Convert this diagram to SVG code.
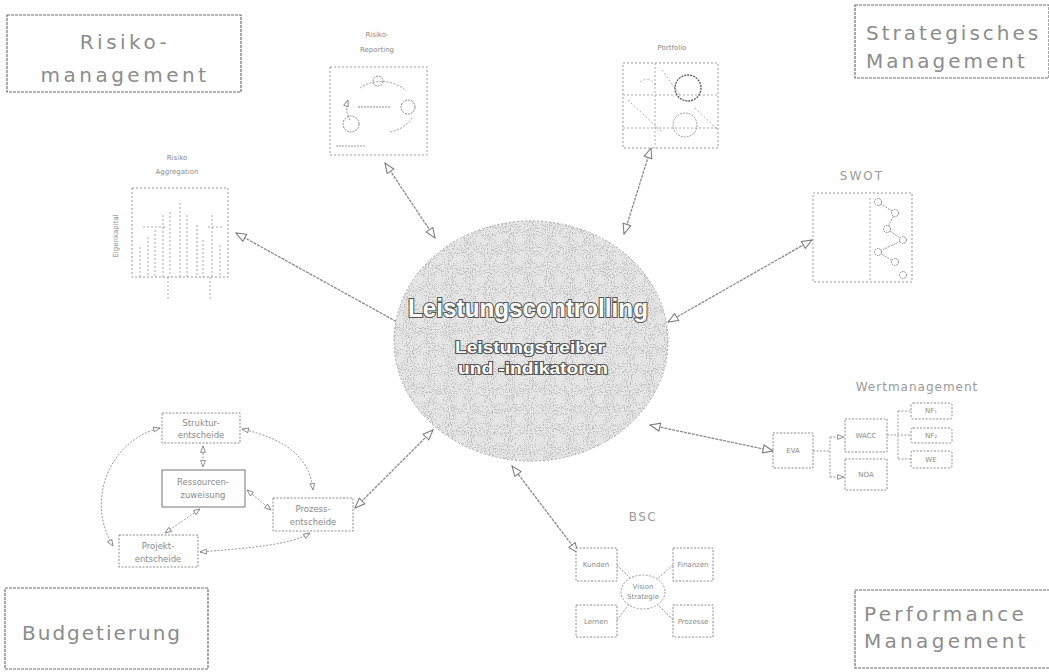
<svg xmlns="http://www.w3.org/2000/svg" width="1049" height="672" viewBox="0 0 1049 672">
<defs>
<style>
.frame{fill:none;stroke:#6e6e6e;stroke-width:1.2;stroke-dasharray:3 1}
.big{font-family:"DejaVu Sans",sans-serif;font-size:20px;fill:#8c8c8c}
.cap{font-family:"DejaVu Sans",sans-serif;font-size:12px;fill:#9a9a9a;text-anchor:middle}
.tiny{font-family:"DejaVu Sans",sans-serif;font-size:7px;fill:#8a8a8a;text-anchor:middle}
.small{font-family:"DejaVu Sans",sans-serif;font-size:8.5px;fill:#8a8a8a;text-anchor:middle}
.thumb{fill:#fff;stroke:#9a9a9a;stroke-width:1;stroke-dasharray:2 2}
.box{fill:#fff;stroke:#8a8a8a;stroke-width:1;stroke-dasharray:2 1.5}
.dl{fill:none;stroke:#aaa;stroke-width:1;stroke-dasharray:2 2}
.conn{fill:none;stroke:#8a8a8a;stroke-width:1.3;stroke-dasharray:3 1;marker-start:url(#ah);marker-end:url(#ah)}
.thin{fill:none;stroke:#999;stroke-width:1;stroke-dasharray:2 1.5}
.ctr{font-family:"Liberation Sans",sans-serif;font-weight:bold;fill:#fff;stroke:#555;stroke-width:2.2;paint-order:stroke;text-anchor:middle}
</style>
<marker id="ah" viewBox="0 0 12 10" refX="11" refY="5" markerWidth="12" markerHeight="10" orient="auto-start-reverse" markerUnits="userSpaceOnUse">
<path d="M1,1 L11,5 L1,9 Z" fill="#fff" stroke="#777" stroke-width="1"/>
</marker>
<marker id="sa" viewBox="0 0 10 8" refX="9" refY="4" markerWidth="8" markerHeight="7" orient="auto-start-reverse" markerUnits="userSpaceOnUse">
<path d="M1,1 L9,4 L1,7 Z" fill="#fff" stroke="#777" stroke-width="1"/>
</marker>
<filter id="speckle" x="0" y="0" width="100%" height="100%">
<feTurbulence type="fractalNoise" baseFrequency="0.95" numOctaves="1" seed="4" result="n"/>
<feColorMatrix in="n" type="matrix" values="0 0 0 0 0.5  0 0 0 0 0.5  0 0 0 0 0.5  0 0 0 12 -6.6" result="dots"/>
<feComposite in="dots" in2="SourceGraphic" operator="in"/>
</filter>
</defs>
<rect width="1049" height="672" fill="#fff"/>

<g id="connectors">
<line class="conn" x1="385" y1="163" x2="435" y2="238"/>
<line class="conn" x1="651" y1="148" x2="624" y2="234"/>
<line class="conn" x1="812" y1="240" x2="668" y2="322"/>
<line class="conn" x1="236" y1="233" x2="408" y2="328"/>
<line class="conn" x1="773" y1="451" x2="650" y2="425"/>
<line class="conn" x1="578" y1="553" x2="512" y2="466"/>
<line class="conn" x1="355" y1="508" x2="433" y2="430"/>
</g>

<g id="risikomanagement">
<rect class="frame" x="7" y="15" width="234" height="77"/>
<text class="big" x="125" y="49" text-anchor="middle" letter-spacing="3.5">Risiko-</text>
<text class="big" x="125" y="82" text-anchor="middle" letter-spacing="3.5">management</text>
</g>

<g id="strategisches">
<rect class="frame" x="855" y="5" width="194" height="73"/>
<text class="big" x="866" y="40" letter-spacing="3">Strategisches</text>
<text class="big" x="866" y="68" letter-spacing="3">Management</text>
</g>

<g id="budgetierung">
<rect class="frame" x="5" y="588" width="203" height="81"/>
<text class="big" x="22" y="640" letter-spacing="2">Budgetierung</text>
</g>

<g id="performance">
<rect class="frame" x="855" y="590" width="196" height="78"/>
<text class="big" x="864" y="621" letter-spacing="3.3">Performance</text>
<text class="big" x="864" y="648" letter-spacing="3.3">Management</text>
</g>

<g id="risiko-reporting">
<text class="tiny" x="377" y="37">Risiko-</text>
<text class="tiny" x="377" y="52">Reporting</text>
<rect class="thumb" x="330" y="67" width="97" height="88"/>
<path class="thin" d="M360,88 A33,28 0 0 1 405,90 M412,118 A33,28 0 0 1 390,132 M350,120 A33,28 0 0 1 348,100" marker-end="url(#sa)"/>
<circle cx="378" cy="81" r="5" fill="none" stroke="#888" stroke-dasharray="2 1"/>
<circle cx="408" cy="107" r="7" fill="none" stroke="#888" stroke-dasharray="2 1"/>
<circle cx="351" cy="124" r="8" fill="none" stroke="#888" stroke-dasharray="2 1"/>
<line x1="358" y1="107" x2="390" y2="107" stroke="#888" stroke-dasharray="2 1"/>
<line x1="336" y1="146" x2="366" y2="146" stroke="#999" stroke-dasharray="2 1"/>
</g>

<g id="portfolio">
<text class="tiny" x="672" y="50">Portfolio</text>
<rect class="thumb" x="623" y="63" width="95" height="85"/>
<line class="dl" x1="623" y1="95" x2="718" y2="95"/>
<line class="dl" x1="623" y1="128" x2="718" y2="128"/>
<line class="dl" x1="655" y1="63" x2="655" y2="148"/>
<line class="dl" x1="628" y1="100" x2="662" y2="132"/>
<line class="dl" x1="662" y1="70" x2="680" y2="95"/>
<line class="dl" x1="695" y1="108" x2="718" y2="130"/>
<path class="dl" d="M640,82 A10,10 0 0 1 656,86"/>
<circle cx="688" cy="88" r="13" fill="none" stroke="#555" stroke-width="1.3" stroke-dasharray="2 1"/>
<circle cx="685" cy="125" r="12" fill="none" stroke="#999" stroke-dasharray="2 1"/>
</g>

<g id="risiko-aggregation">
<text class="tiny" x="177" y="160">Risiko</text>
<text class="tiny" x="177" y="174">Aggregation</text>
<rect class="thumb" x="132" y="188" width="96" height="89"/>
<text class="tiny" transform="translate(118,236) rotate(-90)">Eigenkapital</text>
<g class="dl">
<line x1="140" y1="247" x2="140" y2="277"/>
<line x1="148" y1="237" x2="148" y2="277"/>
<line x1="155" y1="230" x2="155" y2="277"/>
<line x1="163" y1="215" x2="163" y2="277"/>
<line x1="170" y1="212" x2="170" y2="277"/>
<line x1="180" y1="203" x2="180" y2="277"/>
<line x1="187" y1="215" x2="187" y2="277"/>
<line x1="197" y1="225" x2="197" y2="277"/>
<line x1="203" y1="240" x2="203" y2="277"/>
<line x1="212" y1="215" x2="212" y2="277"/>
<line x1="220" y1="245" x2="220" y2="277"/>
<line x1="143" y1="227" x2="165" y2="227"/>
<line x1="208" y1="227" x2="222" y2="227"/>
<line x1="168" y1="277" x2="168" y2="300"/>
<line x1="210" y1="277" x2="210" y2="300"/>
</g>
</g>

<g id="swot">
<text class="cap" x="862" y="180" letter-spacing="2">SWOT</text>
<rect class="thumb" x="813" y="193" width="99" height="89"/>
<line class="dl" x1="870" y1="198" x2="870" y2="282"/>
<polyline fill="none" stroke="#999" stroke-dasharray="2 1" points="878,202 895,213 887,229 903,240 878,252 895,262"/>
<g fill="#fff" stroke="#777" stroke-dasharray="1.5 1">
<circle cx="878" cy="202" r="3.5"/><circle cx="895" cy="213" r="3.5"/><circle cx="887" cy="229" r="3.5"/>
<circle cx="903" cy="240" r="3.5"/><circle cx="878" cy="252" r="3.5"/><circle cx="895" cy="262" r="3.5"/><circle cx="903" cy="275" r="3.5"/>
</g>
</g>

<g id="leistungscontrolling">
<ellipse cx="531" cy="341" rx="137" ry="120" fill="#e6e6e6"/>
<ellipse cx="531" cy="341" rx="137" ry="120" fill="#000" filter="url(#speckle)"/>
<ellipse cx="531" cy="341" rx="137" ry="120" fill="none" stroke="#aaa" stroke-width="1" stroke-dasharray="2 2"/>
<text class="ctr" x="528" y="317" font-size="25" textLength="240" lengthAdjust="spacingAndGlyphs">Leistungscontrolling</text>
<text class="ctr" x="530" y="353" font-size="17" textLength="150" lengthAdjust="spacingAndGlyphs">Leistungstreiber</text>
<text class="ctr" x="533" y="374" font-size="17" textLength="150" lengthAdjust="spacingAndGlyphs">und -indikatoren</text>
</g>

<g id="wertmanagement">
<text class="cap" x="917" y="391" letter-spacing="1">Wertmanagement</text>
<rect class="box" x="773" y="433" width="40" height="35"/>
<text class="tiny" x="793" y="453">EVA</text>
<rect class="box" x="845" y="419" width="42" height="33"/>
<text class="tiny" x="866" y="438">WACC</text>
<rect class="box" x="845" y="459" width="42" height="31"/>
<text class="tiny" x="866" y="477">NOA</text>
<rect class="box" x="911" y="403" width="41" height="16" rx="2"/>
<text class="tiny" x="931" y="413">NF₁</text>
<rect class="box" x="911" y="428" width="41" height="15" rx="2"/>
<text class="tiny" x="931" y="438">NF₂</text>
<rect class="box" x="911" y="451" width="41" height="17" rx="2"/>
<text class="tiny" x="931" y="462">WE</text>
<path class="thin" d="M813,451 H830 M830,437 V477"/>
<path class="thin" d="M830,437 H844" marker-end="url(#sa)"/>
<path class="thin" d="M830,477 H844" marker-end="url(#sa)"/>
<path class="thin" d="M887,435 H911 M898,411 V459 M898,411 H911 M898,459 H911"/>
</g>

<g id="budgetkreis">
<rect class="box" x="162" y="413" width="78" height="30"/>
<text class="small" x="201" y="426">Struktur-</text>
<text class="small" x="201" y="438">entscheide</text>
<rect x="162" y="470" width="83" height="37" fill="#fff" stroke="#777" stroke-width="1"/>
<text class="small" x="203" y="485">Ressourcen-</text>
<text class="small" x="203" y="498">zuweisung</text>
<rect class="box" x="273" y="498" width="80" height="33"/>
<text class="small" x="313" y="512">Prozess-</text>
<text class="small" x="313" y="525">entscheide</text>
<rect class="box" x="119" y="535" width="79" height="32"/>
<text class="small" x="158" y="549">Projekt-</text>
<text class="small" x="158" y="562">entscheide</text>
<g marker-start="url(#sa)" marker-end="url(#sa)">
<path class="thin" d="M160,428 C110,440 85,500 113,546"/>
<path class="thin" d="M242,429 C290,440 310,460 313,490"/>
<path class="thin" d="M203,446 L203,467"/>
<path class="thin" d="M247,490 L271,510"/>
<path class="thin" d="M200,509 L165,533"/>
<path class="thin" d="M200,552 C250,548 290,545 310,533"/>
</g>
</g>

<g id="bsc">
<text class="cap" x="643" y="521" letter-spacing="1.5">BSC</text>
<path class="thin" d="M617,565 L632,580 M673,565 L656,580 M617,620 L630,603 M673,620 L656,603"/>
<rect class="box" x="576" y="548" width="41" height="33"/>
<text class="tiny" x="596" y="567">Kunden</text>
<rect class="box" x="673" y="548" width="40" height="33"/>
<text class="tiny" x="693" y="567">Finanzen</text>
<rect class="box" x="576" y="605" width="41" height="32"/>
<text class="tiny" x="596" y="624">Lernen</text>
<rect class="box" x="673" y="605" width="40" height="32"/>
<text class="tiny" x="693" y="624">Prozesse</text>
<ellipse cx="643" cy="592" rx="22" ry="17" fill="#fff" stroke="#999" stroke-dasharray="2 1.5"/>
<text class="tiny" x="643" y="589">Vision</text>
<text class="tiny" x="643" y="599">Strategie</text>
</g>
</svg>
